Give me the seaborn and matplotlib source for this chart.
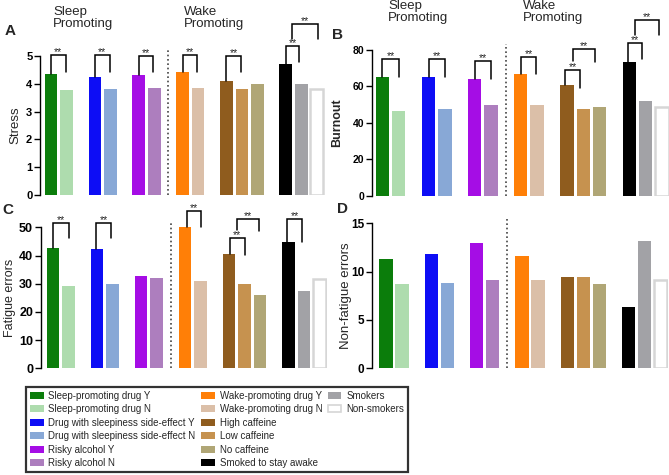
import numpy as np
import pandas as pd
import matplotlib
matplotlib.use("Agg")
import matplotlib.pyplot as plt
from matplotlib.patches import Patch
import seaborn as sns

# ---------------- data ----------------
labels = ["Sleep-promoting drug Y", "Sleep-promoting drug N",
          "Drug with sleepiness side-effect Y", "Drug with sleepiness side-effect N",
          "Risky alcohol Y", "Risky alcohol N",
          "Wake-promoting drug Y", "Wake-promoting drug N",
          "High caffeine", "Low caffeine", "No caffeine",
          "Smoked to stay awake", "Smokers", "Non-smokers"]
colors = ["#0b7d0b", "#aedcae", "#0d0df5", "#88a8d6", "#a50de5", "#ad7ebe",
          "#ff7f07", "#dbbfa8", "#8f5c1e", "#c6924f", "#b0a676",
          "#000000", "#a2a2a6", "#ffffff"]
stress = [4.35, 3.77, 4.24, 3.81, 4.32, 3.86, 4.41, 3.86, 4.10, 3.80, 4.00, 4.72, 4.00, 3.83]
burnout = [65.0, 46.5, 65.2, 47.4, 63.9, 49.8, 66.7, 49.8, 60.6, 47.4, 48.5, 73.6, 52.2, 48.9]
fatigue = [42.6, 29.2, 42.3, 29.8, 32.9, 31.9, 50.0, 31.1, 40.4, 29.9, 26.0, 44.9, 27.3, 31.6]
nonfatigue = [11.3, 8.69, 11.83, 8.79, 12.93, 9.14, 11.62, 9.14, 9.41, 9.41, 8.69, 6.31, 13.2, 9.14]

# bar positions (layout)
P = [0, 1, 2.83, 3.83, 5.66, 6.66, 8.49, 9.49, 11.32, 12.32, 13.32, 15.15, 16.15, 17.15]
SEP = (P[5] + P[6]) / 2

def mid(a, b):
    return (a + b) / 2

# significance brackets: (x1, x2, top, bottom1, bottom2)
brA = [(P[0], P[1] - 0.05, 5.04, 4.35, 4.44),
       (P[2], P[3] - 0.05, 5.04, 4.24, 4.44),
       (P[4], P[5] - 0.05, 5.0, 4.32, 4.44),
       (P[6], P[7] - 0.05, 5.04, 4.41, 4.44),
       (P[8], P[9] - 0.05, 5.0, 4.10, 4.44),
       (P[11], P[12] - 0.15, 5.37, 4.72, 4.8),
       (mid(P[11], P[12] - 0.15), P[13] + 0.1, 6.15, 5.6, 5.6)]
brB = [(P[0], P[1], 74.9, 65.0, 65.2),
       (P[2], P[3], 74.9, 65.2, 65.2),
       (P[4], P[5], 74.0, 63.9, 63.9),
       (P[6], P[7] - 0.05, 76.2, 66.7, 67.1),
       (P[8] - 0.1, P[9] - 0.2, 69.2, 60.6, 59.0),
       (mid(P[8] - 0.1, P[9] - 0.2), P[10] - 0.3, 80.8, 74.0, 73.4),
       (P[11] - 0.1, P[12] - 0.25, 84.0, 73.6, 75.3),
       (mid(P[11] - 0.1, P[12] - 0.25), P[13] - 0.2, 96.6, 88.0, 88.0)]
brC = [(P[0], P[1], 51.4, 42.6, 46.3),
       (P[2] - 0.05, P[3] - 0.1, 51.4, 42.3, 46.3),
       (P[6] + 0.1, P[7] + 0.05, 55.9, 50.0, 50.0),
       (P[8] + 0.05, P[9] + 0.03, 46.1, 40.4, 40.2),
       (mid(P[8] + 0.05, P[9] + 0.03), P[10] - 0.1, 52.8, 49.0, 48.8),
       (P[11] - 0.08, P[12] - 0.15, 52.8, 44.9, 44.9)]

# ---------------- style ----------------
sns.set_style("ticks")
plt.rcParams['font.family'] = ['Liberation Sans', 'DejaVu Sans']
plt.rcParams['axes.linewidth'] = 1.0

fig = plt.figure(figsize=(6.69, 4.75), dpi=100)

panels = [
    dict(vals=stress, rect=[0.0598, 0.5895, 0.4254, 0.2926], xlim=(-0.71, 17.65),
         ylim=(0, 5), ticks=[0, 1, 2, 3, 4, 5], ylabel="Stress", lw='normal',
         lfs=9.5, tfs=8, lx=-0.085, br=brA),
    dict(vals=burnout, rect=[0.556, 0.588, 0.4443, 0.3067], xlim=(-0.645, 17.6),
         ylim=(0, 80), ticks=[0, 20, 40, 60, 80], ylabel="Burnout", lw='bold',
         lfs=9, tfs=7.5, lx=-0.118, br=brB),
    dict(vals=fatigue, rect=[0.0608, 0.2246, 0.4286, 0.2968], xlim=(-0.79, 17.65),
         ylim=(0, 50), ticks=[0, 10, 20, 30, 40, 50], ylabel="Fatigue errors", lw='normal',
         lfs=9, tfs=9, lx=-0.107, br=brC),
    dict(vals=nonfatigue, rect=[0.5556, 0.2246, 0.4427, 0.3053], xlim=(-0.89, 17.6),
         ylim=(0, 15), ticks=[0, 5, 10, 15], ylabel="Non-fatigue errors", lw='normal',
         lfs=9.5, tfs=8.5, lx=-0.087, br=[]),
]

for p in panels:
    ax = fig.add_axes(p['rect'])
    df = pd.DataFrame({"pos": P, "val": p['vals'], "grp": labels})
    sns.barplot(data=df, x="pos", y="val", hue="grp", hue_order=labels,
                palette=colors, native_scale=True, dodge=False, width=0.82,
                errorbar=None, saturation=1, legend=False, ax=ax)
    for patch in ax.patches:
        fc = patch.get_facecolor()
        if fc[0] > 0.99 and fc[1] > 0.99 and fc[2] > 0.99:
            patch.set_edgecolor("#d6d6d6")
            patch.set_linewidth(1.8)
        else:
            patch.set_linewidth(0)
    ax.set_xlim(*p['xlim'])
    ax.set_ylim(*p['ylim'])
    ax.set_yticks(p['ticks'])
    ax.set_xticks([])
    ax.set_xlabel("")
    ax.set_ylabel(p['ylabel'], fontsize=p['lfs'], fontweight=p['lw'],
                  ha='center', va='center')
    ax.yaxis.set_label_coords(p['lx'], 0.5)
    for lab in ax.get_yticklabels():
        lab.set_fontweight('bold')
        lab.set_fontsize(p['tfs'])
    ax.tick_params(axis='y', length=4, width=1.0, pad=1.5, colors='black')
    sns.despine(ax=ax, bottom=True)
    ax.spines['left'].set_color('black')
    ax.axvline(SEP, ymin=0, ymax=1.04, color='#444444', lw=1.2,
               linestyle=(0, (1, 1.6)), clip_on=False)
    for (x1, x2, top, b1, b2) in p['br']:
        ax.plot([x1, x1, x2, x2], [b1, top, top, b2], color='black', lw=1.1,
                clip_on=False, solid_joinstyle='miter')
        ax.annotate("**", ((x1 + x2) / 2, top), xytext=(0, -1.5),
                    textcoords='offset points', ha='center', va='bottom',
                    fontsize=7.5, annotation_clip=False)

# panel letters
for t, x, y in [("A", 5, 31), ("B", 332, 35), ("C", 2, 210), ("D", 337, 209)]:
    fig.text(x / 669, 1 - y / 475, t, fontsize=11, fontweight='bold',
             ha='left', va='center')

# group titles
for t, x, y in [("Sleep\nPromoting", 53, 6), ("Wake\nPromoting", 184, 6),
                ("Sleep\nPromoting", 388, 0), ("Wake\nPromoting", 523, 0)]:
    fig.text(x / 669, 1 - y / 475, t, fontsize=9.5, ha='left', va='top',
             linespacing=0.95)

# legend
handles = []
for lab, c in zip(labels, colors):
    if c == "#ffffff":
        handles.append(Patch(facecolor='white', edgecolor='#d6d6d6', linewidth=1.2, label=lab))
    else:
        handles.append(Patch(facecolor=c, edgecolor='none', label=lab))
blank = [Patch(facecolor='none', edgecolor='none', label=' ') for _ in range(4)]
ordered = handles + blank
leg = fig.legend(handles=ordered, loc='lower left',
                 bbox_to_anchor=(0.039, 0.006, 0.571, 0.175), mode='expand',
                 ncol=3, frameon=True, fancybox=False,
                 prop={'family': 'Liberation Sans', 'size': 7},
                 handlelength=1.4, handleheight=0.7, handletextpad=0.5,
                 labelspacing=0.36, borderpad=0.4, borderaxespad=0, columnspacing=0.5)
leg.get_frame().set_edgecolor('black')
leg.get_frame().set_linewidth(1.6)

fig.savefig("out.png", dpi=100)
